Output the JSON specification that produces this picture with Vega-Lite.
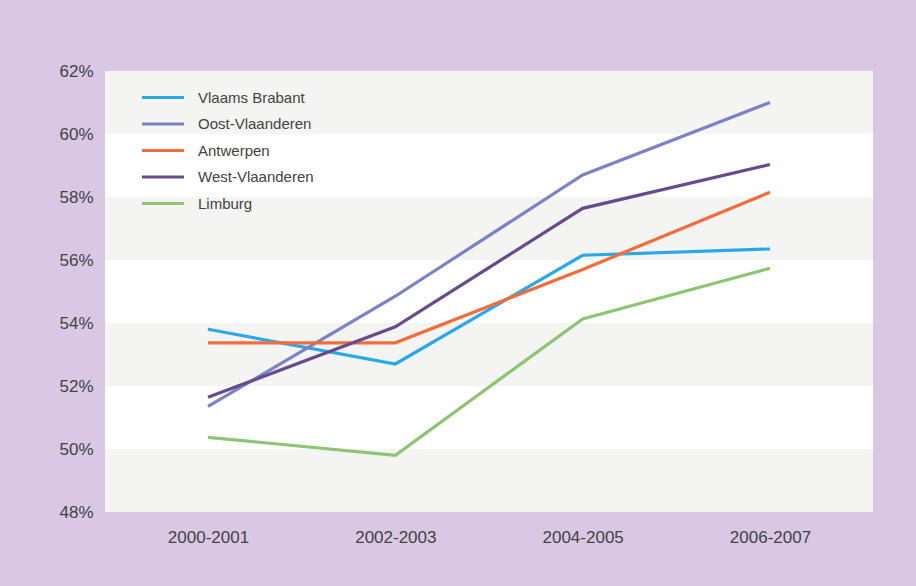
{
  "$schema": "https://vega.github.io/schema/vega-lite/v6.json",
  "autosize": "none",
  "width": 768,
  "height": 441,
  "padding": {"left": 105, "top": 71, "right": 43, "bottom": 74},
  "background": "#d9c7e4",
  "config": {
    "view": {"fill": "#ffffff", "stroke": null},
    "font": "Liberation Sans"
  },
  "layer": [
    {
      "data": {"values": [
        {"lo": 60, "hi": 62},
        {"lo": 56, "hi": 58},
        {"lo": 52, "hi": 54},
        {"lo": 48, "hi": 50}
      ]},
      "mark": {"type": "rect", "color": "#f4f4f2"},
      "encoding": {
        "y": {"field": "lo", "type": "quantitative", "scale": {"domain": [48, 62]}},
        "y2": {"field": "hi"}
      }
    },
    {
      "data": {"values": [
        {"jaar": "2000-2001", "provincie": "Vlaams Brabant", "pct": 53.8},
        {"jaar": "2002-2003", "provincie": "Vlaams Brabant", "pct": 52.7},
        {"jaar": "2004-2005", "provincie": "Vlaams Brabant", "pct": 56.15},
        {"jaar": "2006-2007", "provincie": "Vlaams Brabant", "pct": 56.35},
        {"jaar": "2000-2001", "provincie": "Oost-Vlaanderen", "pct": 51.35},
        {"jaar": "2002-2003", "provincie": "Oost-Vlaanderen", "pct": 54.85},
        {"jaar": "2004-2005", "provincie": "Oost-Vlaanderen", "pct": 58.7},
        {"jaar": "2006-2007", "provincie": "Oost-Vlaanderen", "pct": 61.0},
        {"jaar": "2000-2001", "provincie": "Antwerpen", "pct": 53.37},
        {"jaar": "2002-2003", "provincie": "Antwerpen", "pct": 53.37},
        {"jaar": "2004-2005", "provincie": "Antwerpen", "pct": 55.7},
        {"jaar": "2006-2007", "provincie": "Antwerpen", "pct": 58.15},
        {"jaar": "2000-2001", "provincie": "West-Vlaanderen", "pct": 51.64},
        {"jaar": "2002-2003", "provincie": "West-Vlaanderen", "pct": 53.88},
        {"jaar": "2004-2005", "provincie": "West-Vlaanderen", "pct": 57.64},
        {"jaar": "2006-2007", "provincie": "West-Vlaanderen", "pct": 59.03},
        {"jaar": "2000-2001", "provincie": "Limburg", "pct": 50.37},
        {"jaar": "2002-2003", "provincie": "Limburg", "pct": 49.8},
        {"jaar": "2004-2005", "provincie": "Limburg", "pct": 54.13},
        {"jaar": "2006-2007", "provincie": "Limburg", "pct": 55.74}
      ]},
      "mark": {"type": "line", "strokeWidth": 3.2},
      "encoding": {
        "x": {
          "field": "jaar", "type": "ordinal",
          "scale": {"type": "point", "padding": 0.55},
          "axis": {"title": null, "domain": false, "ticks": false, "labelAngle": 0, "labelFontSize": 17, "labelColor": "#434343", "labelPadding": 17}
        },
        "y": {
          "field": "pct", "type": "quantitative",
          "scale": {"domain": [48, 62], "nice": false, "zero": false},
          "axis": {"title": null, "domain": false, "ticks": false, "grid": false, "values": [48, 50, 52, 54, 56, 58, 60, 62], "labelExpr": "datum.value + '%'", "labelFontSize": 17, "labelColor": "#434343", "labelPadding": 12}
        },
        "color": {
          "field": "provincie", "type": "nominal",
          "scale": {
            "domain": ["Vlaams Brabant", "Oost-Vlaanderen", "Antwerpen", "West-Vlaanderen", "Limburg"],
            "range": ["#2aa8ec", "#7c82c6", "#f26c3c", "#674b8f", "#8dc572"]
          },
          "legend": {
            "title": null, "orient": "none", "legendX": 45.5, "legendY": 14,
            "symbolType": "M-2,0H2", "symbolSize": 441, "symbolStrokeWidth": 3.2,
            "labelFontSize": 15, "labelColor": "#434343", "labelOffset": 22.5,
            "rowPadding": 5.5, "fillColor": null
          }
        }
      }
    }
  ]
}
